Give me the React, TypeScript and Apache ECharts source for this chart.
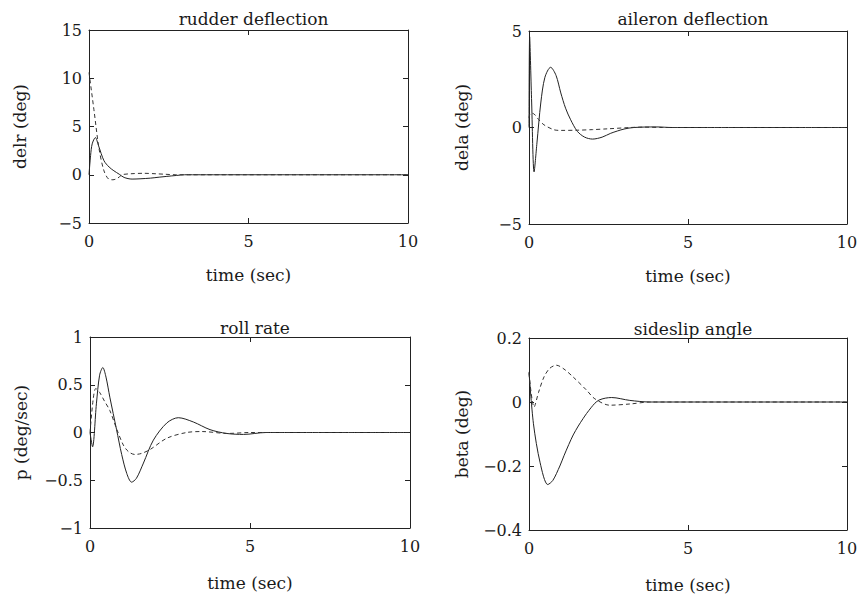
import React, { useEffect, useRef } from "react";
import * as echarts from "echarts";

// ---- data ----
const titles = ["rudder deflection", "aileron deflection", "roll rate", "sideslip angle"];
const yNames = ["delr (deg)", "dela (deg)", "p (deg/sec)", "beta (deg)"];
const xName = "time (sec)";
const xTicks = [0, 5, 10];
const yMins = [-5, -5, -1, -0.4];
const yMaxs = [15, 5, 1, 0.2];
const yIntervals = [5, 5, 0.5, 0.2];

const rudSolidT = [0, 0.05, 0.1, 0.2, 0.3, 0.47, 0.63, 0.78, 0.95, 1.1, 1.35, 1.6, 1.93, 2.2, 2.44, 2.75, 3.0, 3.5, 10];
const rudSolidV = [0, 2.0, 3.2, 3.85, 3.0, 1.45, 0.8, 0.41, 0.05, -0.28, -0.45, -0.42, -0.35, -0.25, -0.17, -0.07, 0, 0, 0];
const rudDashT = [0, 0.16, 0.31, 0.47, 0.63, 0.75, 0.9, 1.04, 1.3, 1.72, 2.1, 2.4, 2.7, 10];
const rudDashV = [10.6, 6.6, 2.8, 0.4, -0.48, -0.52, -0.35, 0, 0.1, 0.15, 0.1, 0.05, 0, 0];

const ailSolidT = [0, 0.02, 0.08, 0.16, 0.25, 0.37, 0.5, 0.68, 0.85, 1.0, 1.15, 1.31, 1.52, 1.75, 2.0, 2.3, 2.57, 2.99, 3.3, 4.0, 4.5, 10];
const ailSolidV = [0, 4.7, 1.5, -2.3, -0.8, 1.27, 2.6, 3.12, 2.7, 1.79, 1.0, 0.4, -0.2, -0.5, -0.6, -0.5, -0.3, -0.08, 0, 0.03, 0, 0];
const ailDashT = [0, 0.05, 0.16, 0.3, 0.47, 0.79, 1.0, 1.52, 2.0, 2.46, 3.2, 3.6, 4.2, 10];
const ailDashV = [0.5, 0.75, 0.7, 0.42, 0.14, -0.12, -0.15, -0.14, -0.11, -0.07, 0, 0.02, 0, 0];

const rollSolidT = [0, 0.08, 0.2, 0.3, 0.4, 0.5, 0.62, 0.83, 0.99, 1.15, 1.3, 1.45, 1.67, 1.98, 2.4, 2.76, 3.23, 3.75, 4.27, 4.8, 5.5, 10];
const rollSolidV = [0, -0.15, 0.3, 0.6, 0.68, 0.58, 0.37, 0.03, -0.23, -0.43, -0.52, -0.48, -0.32, -0.08, 0.1, 0.155, 0.11, 0.03, -0.01, -0.02, 0, 0];
const rollDashT = [0, 0.1, 0.18, 0.3, 0.45, 0.62, 0.83, 1.04, 1.2, 1.4, 1.6, 1.87, 2.4, 3.02, 3.5, 4.3, 5, 10];
const rollDashV = [0, 0.35, 0.46, 0.42, 0.33, 0.23, 0.04, -0.13, -0.2, -0.23, -0.22, -0.18, -0.06, 0, 0.01, -0.01, 0, 0];

const betaSolidT = [0, 0.14, 0.35, 0.59, 0.75, 0.97, 1.1, 1.25, 1.39, 1.55, 1.7, 1.81, 1.95, 2.07, 2.2, 2.4, 2.6, 3.17, 3.8, 10];
const betaSolidV = [0.094, -0.068, -0.19, -0.258, -0.245, -0.2, -0.168, -0.133, -0.103, -0.075, -0.052, -0.036, -0.018, -0.004, 0.006, 0.012, 0.014, 0.005, 0, 0];
const betaDashT = [0, 0.16, 0.3, 0.47, 0.65, 0.86, 1.1, 1.39, 1.81, 2.07, 2.54, 3.2, 3.8, 10];
const betaDashV = [0.09, -0.016, 0.03, 0.078, 0.105, 0.115, 0.103, 0.078, 0.037, 0.01, -0.01, -0.006, 0, 0];

const solidSets = [
  [rudSolidT, rudSolidV],
  [ailSolidT, ailSolidV],
  [rollSolidT, rollSolidV],
  [betaSolidT, betaSolidV],
];
const dashSets = [
  [rudDashT, rudDashV],
  [ailDashT, ailDashV],
  [rollDashT, rollDashV],
  [betaDashT, betaDashV],
];

// ---- layout ----
const grids = [
  { left: 89, top: 30, width: 319, height: 193 },
  { left: 529, top: 31, width: 318, height: 193 },
  { left: 90, top: 337, width: 320, height: 191 },
  { left: 529, top: 338, width: 318, height: 192 },
];
const titleTops = [5, 5, 314, 315];
const xNameGaps = [43, 43, 46, 46];
const yNameGaps = [61, 59, 61, 59];

const FONT = "DejaVu Serif";
const TXT = "#1a1a1a";
const LINE = "#222";

function fmt(v: number) {
  const r = Math.round(v * 1000) / 1000;
  if (r === 0) return "0";
  return (r < 0 ? "\u2212" : "") + String(Math.abs(r));
}

function zip(t: number[], v: number[]) {
  return t.map((x, i) => [x, v[i]]);
}

export default function App() {
  const ref = useRef<HTMLDivElement>(null);
  useEffect(() => {
    if (!ref.current) return;
    const chart = echarts.init(ref.current, undefined, { renderer: "svg" });
    const xAxis: any[] = [];
    const yAxis: any[] = [];
    const series: any[] = [];
    const title: any[] = [];
    grids.forEach((g, i) => {
      title.push({
        text: titles[i],
        left: g.left + g.width / 2,
        top: titleTops[i],
        textAlign: "center",
        textStyle: { fontFamily: FONT, fontSize: 17, fontWeight: "normal", color: TXT },
      });
      const common = {
        gridIndex: i,
        axisLine: { show: true, onZero: false, lineStyle: { color: LINE, width: 1 } },
        axisTick: { show: true, inside: true, length: 5, lineStyle: { color: LINE } },
        splitLine: { show: false },
      };
      xAxis.push({
        ...common,
        type: "value",
        min: xTicks[0],
        max: xTicks[xTicks.length - 1],
        interval: 5,
        position: "bottom",
        name: xName,
        nameLocation: "middle",
        nameGap: xNameGaps[i],
        nameTextStyle: { fontFamily: FONT, fontSize: 17, color: TXT },
        axisLabel: { fontFamily: FONT, fontSize: 16, color: TXT, margin: 10, formatter: fmt },
      });
      xAxis.push({
        ...common,
        type: "value",
        min: xTicks[0],
        max: xTicks[xTicks.length - 1],
        interval: 5,
        position: "top",
        axisLabel: { show: false },
      });
      yAxis.push({
        ...common,
        type: "value",
        min: yMins[i],
        max: yMaxs[i],
        interval: yIntervals[i],
        position: "left",
        name: yNames[i],
        nameLocation: "middle",
        nameGap: yNameGaps[i],
        nameRotate: 90,
        nameTextStyle: { fontFamily: FONT, fontSize: 17, color: TXT },
        axisLabel: { fontFamily: FONT, fontSize: 16, color: TXT, margin: 7, formatter: fmt },
      });
      yAxis.push({
        ...common,
        type: "value",
        min: yMins[i],
        max: yMaxs[i],
        interval: yIntervals[i],
        position: "right",
        axisLabel: { show: false },
      });
      series.push({
        type: "line",
        xAxisIndex: i * 2,
        yAxisIndex: i * 2,
        data: zip(solidSets[i][0], solidSets[i][1]),
        showSymbol: false,
        smooth: 0.3,
        lineStyle: { color: LINE, width: 1 },
      });
      series.push({
        type: "line",
        xAxisIndex: i * 2,
        yAxisIndex: i * 2,
        data: zip(dashSets[i][0], dashSets[i][1]),
        showSymbol: false,
        smooth: 0.3,
        lineStyle: { color: "#333", width: 1, type: [4, 3] },
      });
    });
    chart.setOption({
      animation: false,
      backgroundColor: "#fff",
      title,
      grid: grids,
      xAxis,
      yAxis,
      series,
    });
    return () => chart.dispose();
  }, []);
  return <div ref={ref} style={{ width: 861, height: 594, position: "absolute", left: 0, top: 0 }} />;
}
